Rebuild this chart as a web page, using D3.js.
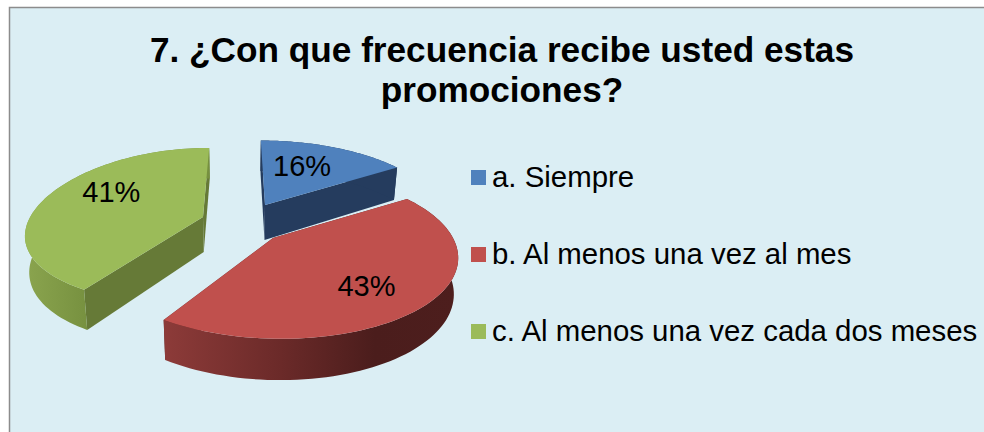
<html>
   <head>
      <meta charset="utf-8">
      <title>Frecuencia de promociones</title>
      <script src="https://d3js.org/d3.v7.min.js"></script>
      <style type="text/css">
         body { margin:0; background:#fff; overflow:hidden; }
         svg { display:block; }
         text { font-family:"Liberation Sans", Arial, sans-serif; fill:#000; }
      </style>
   </head>
   <body>
      <svg id="chart" width="984" height="432"></svg>
      <script>

// data
const titleLines = ["7. ¿Con que frecuencia recibe usted estas", "promociones?"];
const categories = ["a. Siempre", "b. Al menos una vez al mes", "c. Al menos una vez cada dos meses"];
const values = [16, 43, 41];
const topColors = ["#4f81bd", "#c0504d", "#9bbb59"];
const cutColors = ["#253c5e", "#5a2322", "#667a37"];

// layout of the exploded slices: apex x, apex y, x scale, y scale, perspective on y
const apexes = [[265, 205, 0.98, 0.96, 0.2], [273, 238, 1, 1, 0.2], [203, 217, 0.96, 0.96, 0.12]];
const labelNudge = [[0, -7], [-9, 5], [3.5, -11]];
const labelRadius = [0.5, 0.7, 0.6];
const RX = 180, RY = 80.6, PERSP = 0.2, VPX = 240, DEPTH = 35;

const svg = d3.select("#chart");

svg.append("rect")
    .attr("x", 9.5).attr("y", 7.5)
    .attr("width", 1000).attr("height", 460)
    .attr("fill", "#dbeef4")
    .attr("stroke", "#8c8c8c")
    .attr("stroke-width", 1.5);

const defs = svg.append("defs");
function hGradient(id, x1, x2, stops) {
    const g = defs.append("linearGradient").attr("id", id)
        .attr("gradientUnits", "userSpaceOnUse")
        .attr("x1", x1).attr("x2", x2).attr("y1", 0).attr("y2", 0);
    stops.forEach(function(s) {
        g.append("stop").attr("offset", s[0]).attr("stop-color", s[1]);
    });
    return "url(#" + id + ")";
}
const wallFills = [
    "#253c5e",
    hGradient("wallRed", 163, 457, [[0, "#8d3b39"], [0.4, "#6b2a29"], [0.72, "#4b1d1c"], [1, "#4d1e1d"]]),
    hGradient("wallGreen", 26, 90, [[0, "#8aa44e"], [1, "#76903f"]])
];

// top surface point of slice i, t = fraction of radius
function topPoint(i, angle, t) {
    const c = apexes[i];
    const s = 1 / (1 + PERSP * t * Math.cos(angle));
    const sy = 1 / (1 + c[4] * t * Math.cos(angle));
    return {
        x: c[0] + (RX * c[2] * t * Math.sin(angle) * s) + (VPX - c[0]) * (1 - s),
        y: c[1] - RY * c[3] * t * Math.cos(angle) * sy,
        s: s
    };
}
// same point on the underside
function underPoint(i, angle, t) {
    const p = topPoint(i, angle, t);
    return {
        x: VPX + (p.x - VPX) * 0.98,
        y: p.y + DEPTH * Math.pow(p.s, 0.75)
    };
}

const line = d3.line().x(function(d) { return d.x; }).y(function(d) { return d.y; });

function rim(i, a0, a1, fn) {
    const n = 80;
    return d3.range(n + 1).map(function(k) {
        return fn(i, a0 + (a1 - a0) * k / n, 1);
    });
}

const pie = d3.pie().sort(null).value(function(d) { return d; });
const slices = pie(values);

// back to front: green, blue, red
[2, 0, 1].forEach(function(i) {
    const d = slices[i];
    const g = svg.append("g").attr("class", "slice");

    // cut faces
    [d.startAngle, d.endAngle].forEach(function(a) {
        g.append("path")
            .attr("fill", cutColors[i])
            .attr("d", line([topPoint(i, a, 0), topPoint(i, a, 1), underPoint(i, a, 1), underPoint(i, a, 0)]) + "Z");
    });

    // outer wall
    g.append("path")
        .attr("fill", wallFills[i])
        .attr("d", line(rim(i, d.startAngle, d.endAngle, topPoint)
            .concat(rim(i, d.startAngle, d.endAngle, underPoint).reverse())) + "Z");

    // top face
    g.append("path")
        .attr("fill", topColors[i])
        .attr("d", line([topPoint(i, d.startAngle, 0)].concat(rim(i, d.startAngle, d.endAngle, topPoint))) + "Z");
});

// percent labels
svg.selectAll(".pct")
    .data(slices)
    .enter()
    .append("text")
    .attr("class", "pct")
    .attr("text-anchor", "middle")
    .attr("font-size", 29)
    .attr("x", function(d, i) {
        return topPoint(i, (d.startAngle + d.endAngle) / 2, labelRadius[i]).x + labelNudge[i][0];
    })
    .attr("y", function(d, i) {
        return topPoint(i, (d.startAngle + d.endAngle) / 2, labelRadius[i]).y + labelNudge[i][1] + 9;
    })
    .text(function(d) { return d.value + "%"; });

// title
svg.selectAll(".title")
    .data(titleLines)
    .enter()
    .append("text")
    .attr("class", "title")
    .attr("text-anchor", "middle")
    .attr("font-weight", "bold")
    .attr("font-size", 35.2)
    .attr("x", 502)
    .attr("y", function(d, i) { return 61.5 + i * 40; })
    .text(function(d) { return d; });

// legend
const legendY = d3.scalePoint().domain(categories).range([187, 341]);
svg.selectAll(".swatch")
    .data(categories)
    .enter()
    .append("rect")
    .attr("class", "swatch")
    .attr("x", 471)
    .attr("y", function(d) { return legendY(d) - 17; })
    .attr("width", 15)
    .attr("height", 15)
    .attr("fill", function(d, i) { return topColors[i]; });
svg.selectAll(".legend")
    .data(categories)
    .enter()
    .append("text")
    .attr("class", "legend")
    .attr("x", 492)
    .attr("y", function(d) { return legendY(d); })
    .attr("font-size", 29.4)
    .text(function(d) { return d; });

      </script>
   </body>
</html>
